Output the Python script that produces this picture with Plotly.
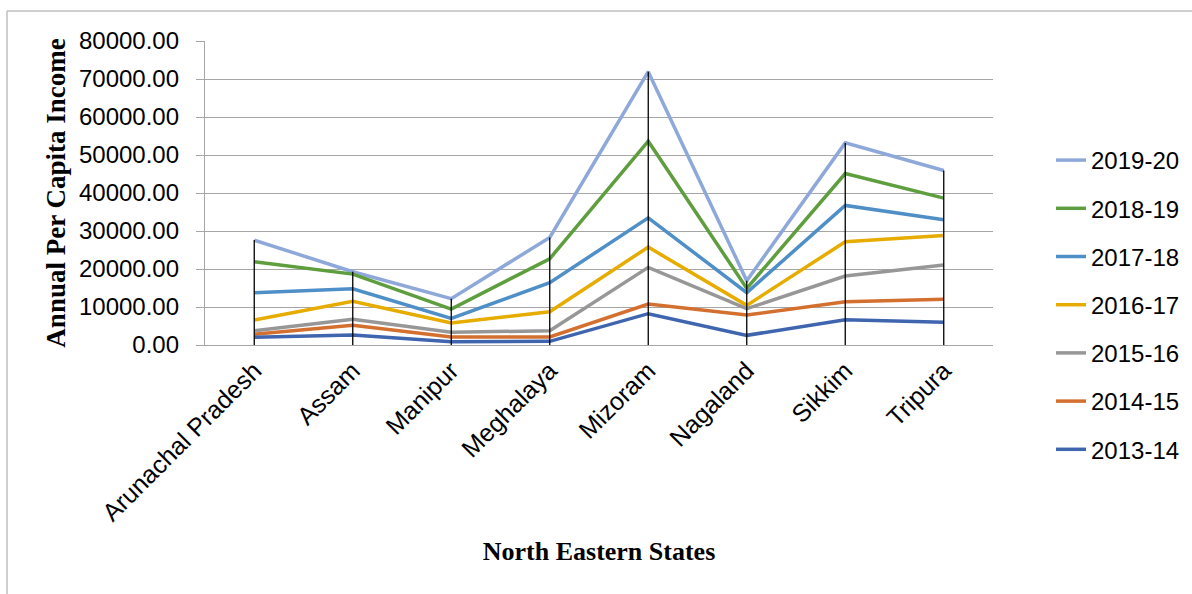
import plotly.graph_objects as go

states = ["Arunachal Pradesh", "Assam", "Manipur", "Meghalaya", "Mizoram",
          "Nagaland", "Sikkim", "Tripura"]

y2019_20 = [27600, 19270, 12180, 28300, 71940, 16910, 53190, 45910]
y2018_19 = [21900, 18660, 9460, 22700, 53630, 14900, 45130, 38640]
y2017_18 = [13750, 14800, 7010, 16380, 33470, 13760, 36720, 32950]
y2016_17 = [6570, 11480, 5780, 8760, 25760, 10430, 27170, 28830]
y2015_16 = [3770, 6750, 3330, 3770, 20420, 9550, 18140, 21030]
y2014_15 = [2800, 5170, 2100, 2100, 10780, 7890, 11390, 12010]
y2013_14 = [2020, 2630, 880, 960, 8240, 2540, 6660, 5960]

series_names = ["2019-20", "2018-19", "2017-18", "2016-17", "2015-16", "2014-15", "2013-14"]
series_values = [y2019_20, y2018_19, y2017_18, y2016_17, y2015_16, y2014_15, y2013_14]
colors = ["#8FA8DA", "#5F9E3E", "#4F8FC7", "#E6AC00", "#979797", "#D4702F", "#3F65AE"]

fig = go.Figure()
for name, vals, col in zip(series_names, series_values, colors):
    fig.add_trace(go.Scatter(x=states, y=vals, mode="lines", name=name,
                             legendgroup=name,
                             line=dict(color=col, width=3.5)))

# drop lines from highest point down to the axis
dx, dy = [], []
for i, s in enumerate(states):
    top = max(v[i] for v in series_values)
    dx += [s, s, None]
    dy += [0, top, None]
fig.add_trace(go.Scatter(x=dx, y=dy, mode="lines", showlegend=False,
                         hoverinfo="skip", line=dict(color="black", width=1.3)))

# plot area geometry (px)
L, R, T, B = 205, 993, 41, 345
W, H = 1192, 594
pw, ph = R - L, B - T

def px_x(p):
    return (p - L) / pw

def px_y(p):
    return (B - p) / ph

fig.update_layout(
    width=W, height=H,
    margin=dict(l=L, r=W - R, t=T, b=H - B),
    paper_bgcolor="white", plot_bgcolor="white",
    font=dict(family="Liberation Sans, Arial, sans-serif", color="black", size=24),
    showlegend=True,
    legend=dict(xref="container", yref="container",
                x=1051 / W, xanchor="left", y=1 - 138 / H, yanchor="top",
                font=dict(size=24, family="Liberation Sans, Arial, sans-serif"),
                tracegroupgap=14, maxheight=600, bgcolor="rgba(0,0,0,0)"),
    xaxis=dict(
        type="category", range=[-0.5, len(states) - 0.5],
        showgrid=False, showline=True, linecolor="#A6A6A6", linewidth=1.3,
        tickangle=-45, tickfont=dict(size=25), ticks="",
        title=dict(text="<b>North Eastern States</b>",
                   font=dict(family="Liberation Serif, Times New Roman, serif", size=26),
                   standoff=16),
    ),
    yaxis=dict(
        range=[0, 80000], dtick=10000, tickformat=".2f",
        showgrid=True, gridcolor="#A6A6A6", gridwidth=1.3,
        showline=True, linecolor="#A6A6A6", linewidth=1.3,
        ticks="outside", ticklen=8, tickcolor="#A6A6A6", tickwidth=1.3,
        ticklabelstandoff=12, tickfont=dict(size=24), zeroline=False,
        title=dict(text="<b>Annual Per Capita Income</b>",
                   font=dict(family="Liberation Serif, Times New Roman, serif", size=27),
                   standoff=5),
    ),
    shapes=[
        dict(type="line", xref="paper", yref="paper",
             x0=px_x(7), x1=px_x(7), y0=px_y(11), y1=px_y(700),
             line=dict(color="#BFBFBF", width=1.5)),
        dict(type="line", xref="paper", yref="paper",
             x0=px_x(7), x1=px_x(1300), y0=px_y(11), y1=px_y(11),
             line=dict(color="#BFBFBF", width=1.5)),
    ],
)

fig.write_html("out.html")
